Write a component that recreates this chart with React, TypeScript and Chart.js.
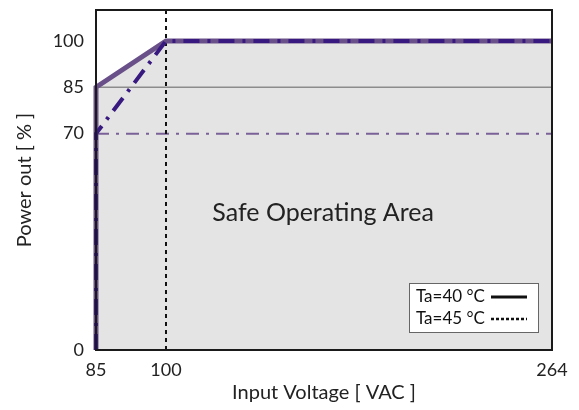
import React, { useEffect, useRef } from "react";
import { Chart, registerables, LinearScale } from "chart.js";

Chart.register(...registerables);

// ---- data ----
const voltage40 = [85, 85, 100, 264];
const power40 = [0, 85, 100, 100];
const voltage45 = [85, 85, 100, 264];
const power45 = [0, 70, 100, 100];
const xTicks = [85, 100, 264];
const yTicks = [0, 70, 85, 100];
const level40 = 85;
const level45 = 70;
const breakVoltage = 100;
const legendLabels = ["Ta=40 °C", "Ta=45 °C"];
const areaLabel = "Safe Operating Area";
const xTitle = "Input Voltage [ VAC ]";
const yTitle = "Power out [ % ]";

// piecewise x scale: knots in value space -> fraction of axis length
const knotValues = [85, 100, 264];
const knotFractions = [0, 0.1535, 1];

function toFraction(v: number) {
  for (let i = 0; i < knotValues.length - 1; i++) {
    const a = knotValues[i], b = knotValues[i + 1];
    if (v <= b || i === knotValues.length - 2) {
      const t = (v - a) / (b - a);
      return knotFractions[i] + t * (knotFractions[i + 1] - knotFractions[i]);
    }
  }
  return 0;
}
function fromFraction(f: number) {
  for (let i = 0; i < knotFractions.length - 1; i++) {
    const a = knotFractions[i], b = knotFractions[i + 1];
    if (f <= b || i === knotFractions.length - 2) {
      const t = (f - a) / (b - a);
      return knotValues[i] + t * (knotValues[i + 1] - knotValues[i]);
    }
  }
  return 0;
}

class PiecewiseScale extends (LinearScale as any) {
  static id = "piecewise";
  static defaults = (LinearScale as any).defaults;
  getPixelForValue(value: any) {
    if (value === null || value === undefined || isNaN(value)) return NaN;
    return (this as any).getPixelForDecimal(toFraction(value));
  }
  getValueForPixel(pixel: number) {
    return fromFraction((this as any).getDecimalForPixel(pixel));
  }
}
Chart.register(PiecewiseScale as any);

const FONT = "Lato, 'Open Sans', sans-serif";

const pts = (xs: number[], ys: number[]) => xs.map((x, i) => ({ x, y: ys[i] }));

const framePlugin = {
  id: "frameAndLegend",
  afterDatasetsDraw(chart: any) {
    const { ctx, chartArea: a } = chart;
    ctx.save();
    // frame
    ctx.strokeStyle = "#1a1a1a";
    ctx.lineWidth = 2;
    ctx.strokeRect(a.left, a.top, a.right - a.left, a.bottom - a.top);

    // area label
    ctx.fillStyle = "#222";
    ctx.font = `25px ${FONT}`;
    ctx.textAlign = "center";
    ctx.textBaseline = "middle";
    ctx.fillText(areaLabel, a.left + (a.right - a.left) * 0.498, a.top + 203);

    // legend box
    const bw = 129, bh = 49;
    const bx = a.right - 14 - bw;
    const by = a.bottom - 18 - bh;
    ctx.fillStyle = "#fff";
    ctx.fillRect(bx, by, bw, bh);
    ctx.strokeStyle = "#666";
    ctx.lineWidth = 1;
    ctx.strokeRect(bx + 0.5, by + 0.5, bw, bh);
    ctx.fillStyle = "#111";
    ctx.font = `17px ${FONT}`;
    ctx.textAlign = "left";
    ctx.textBaseline = "middle";
    const rows = [by + 14, by + 36];
    legendLabels.forEach((lab, i) => {
      ctx.fillText(lab, bx + 7, rows[i]);
      ctx.beginPath();
      ctx.strokeStyle = "#111";
      ctx.lineWidth = i === 0 ? 3 : 2.5;
      ctx.setLineDash(i === 0 ? [] : [3, 2]);
      ctx.moveTo(bx + 82, rows[i]);
      ctx.lineTo(bx + 118, rows[i]);
      ctx.stroke();
    });
    ctx.setLineDash([]);
    ctx.restore();
  },
};

export default function App() {
  const ref = useRef<HTMLCanvasElement>(null);
  useEffect(() => {
    if (!ref.current) return;
    const chart = new Chart(ref.current, {
      type: "line",
      data: {
        datasets: [
          {
            label: "fill",
            data: pts(voltage40, power40),
            borderWidth: 0,
            borderColor: "rgba(0,0,0,0)",
            backgroundColor: "#e4e4e4",
            fill: "origin",
            pointRadius: 0,
            order: 10,
          },
          {
            label: "85 level",
            data: pts([xTicks[0], xTicks[2]], [level40, level40]),
            borderColor: "#8c8c8c",
            borderWidth: 1.5,
            pointRadius: 0,
            fill: false,
            order: 9,
          },
          {
            label: "70 level",
            data: pts([xTicks[0], xTicks[2]], [level45, level45]),
            borderColor: "#7a6298",
            borderWidth: 2,
            borderDash: [13, 7, 3, 7],
            pointRadius: 0,
            fill: false,
            order: 8,
          },
          {
            label: "100 V",
            data: pts([breakVoltage, breakVoltage], [0, 110]),
            borderColor: "#111",
            borderWidth: 2,
            borderDash: [4, 4],
            pointRadius: 0,
            fill: false,
            order: 7,
          },
          {
            label: legendLabels[0],
            data: pts(voltage40, power40),
            borderColor: "#6a5089",
            borderWidth: 5,
            pointRadius: 0,
            fill: false,
            clip: 6,
            order: 2,
          },
          {
            label: legendLabels[1],
            data: pts(voltage45, power45),
            borderColor: "#38197f",
            borderWidth: 4,
            borderDash: [16, 8, 3, 8],
            pointRadius: 0,
            fill: false,
            clip: 6,
            order: 1,
          },
        ],
      } as any,
      options: {
        animation: false,
        responsive: true,
        maintainAspectRatio: false,
        layout: { padding: { top: 10, right: 27, left: 0, bottom: 0 } },
        plugins: { legend: { display: false }, tooltip: { enabled: false } },
        elements: { line: { tension: 0 } },
        scales: {
          x: {
            type: "piecewise" as any,
            min: 85,
            max: 264,
            grid: { display: false, drawTicks: false },
            border: { display: false },
            afterBuildTicks: (s: any) => {
              s.ticks = xTicks.map((v) => ({ value: v }));
            },
            afterFit: (s: any) => {
              s.height = 60;
              s.paddingLeft = 0;
              s.paddingRight = 0;
            },
            ticks: {
              autoSkip: false,
              maxRotation: 0,
              padding: 9,
              color: "#222",
              font: { family: FONT, size: 18 },
              callback: (v: any) => String(v),
            },
            title: {
              display: true,
              text: xTitle,
              color: "#222",
              font: { family: FONT, size: 20 },
              padding: { top: 0, bottom: 5 },
            },
          },
          y: {
            type: "linear",
            min: 0,
            max: 110,
            grid: { display: false, drawTicks: false },
            border: { display: false },
            afterBuildTicks: (s: any) => {
              s.ticks = yTicks.map((v) => ({ value: v }));
            },
            afterFit: (s: any) => {
              s.width = 96;
              s.paddingTop = 0;
              s.paddingBottom = 0;
            },
            ticks: {
              autoSkip: false,
              padding: 12,
              color: "#222",
              font: { family: FONT, size: 18 },
              callback: (v: any) => String(v),
            },
            title: {
              display: true,
              text: yTitle,
              color: "#222",
              font: { family: FONT, size: 20 },
              padding: { top: 13, bottom: 0 },
            },
          },
        },
      } as any,
      plugins: [framePlugin],
    });
    return () => chart.destroy();
  }, []);
  return (
    <div style={{ position: "fixed", left: 0, top: 0, width: 579, height: 410, background: "#fff" }}>
      <canvas ref={ref} />
    </div>
  );
}
